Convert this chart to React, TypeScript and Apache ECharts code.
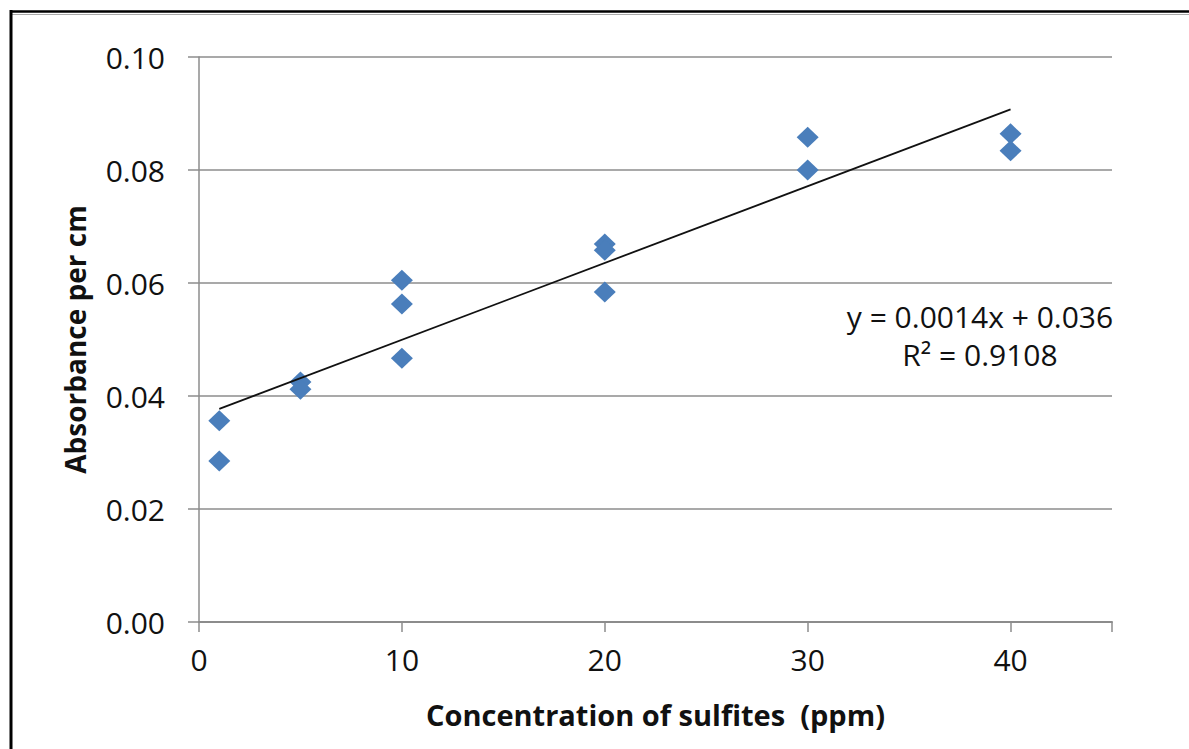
import React, { useEffect, useRef } from "react";
import * as echarts from "echarts";

const concentration = [1, 1, 5, 5, 10, 10, 10, 20, 20, 20, 30, 30, 40, 40];
const absorbance = [0.0356, 0.0285, 0.0425, 0.0412, 0.0605, 0.0563, 0.0467, 0.0669, 0.0658, 0.0584, 0.0858, 0.08, 0.0864, 0.0834];
const xTicks = [0, 10, 20, 30, 40];
const equationLines = ["y = 0.0014x + 0.036", "R² = 0.9108"];

function fit(xs: number[], ys: number[]) {
  const n = xs.length;
  const mx = xs.reduce((a, b) => a + b, 0) / n;
  const my = ys.reduce((a, b) => a + b, 0) / n;
  let sxy = 0, sxx = 0;
  for (let i = 0; i < n; i++) {
    sxy += (xs[i] - mx) * (ys[i] - my);
    sxx += (xs[i] - mx) * (xs[i] - mx);
  }
  const slope = sxy / sxx;
  return { slope, intercept: my - slope * mx };
}

export default function App() {
  const ref = useRef<HTMLDivElement>(null);
  useEffect(() => {
    if (!ref.current) return;
    const chart = echarts.init(ref.current, null, { renderer: "svg" });
    const { slope, intercept } = fit(concentration, absorbance);
    const xMin = Math.min(...concentration);
    const xMax = Math.max(...concentration);
    const trend = [
      [xMin, intercept + slope * xMin],
      [xMax, intercept + slope * xMax],
    ];
    const font = "'Open Sans', 'Noto Sans', sans-serif";
    chart.setOption({
      animation: false,
      backgroundColor: "#fff",
      grid: { left: 199, right: 77, top: 57, bottom: 127, containLabel: false },
      xAxis: {
        type: "value",
        min: 0,
        max: 45,
        interval: 10,
        name: "Concentration of sulfites  (ppm)",
        nameLocation: "middle",
        nameGap: 78,
        nameTextStyle: { fontFamily: font, fontSize: 29, fontWeight: "bold", color: "#111" },
        axisLine: { show: true, lineStyle: { color: "#8c8c8c", width: 2 } },
        axisTick: { show: true, length: 10, lineStyle: { color: "#8c8c8c", width: 1.5 } },
        axisLabel: {
          fontFamily: font,
          fontSize: 30,
          color: "#111",
          margin: 22,
          formatter: (v: number) => (xTicks.includes(v) ? String(v) : ""),
        },
        splitLine: { show: false },
      },
      yAxis: {
        type: "value",
        min: 0,
        max: 0.1,
        interval: 0.02,
        name: "Absorbance per cm",
        nameLocation: "middle",
        nameGap: 110,
        nameTextStyle: { fontFamily: font, fontSize: 28, fontWeight: "bold", color: "#111" },
        axisLine: { show: true, lineStyle: { color: "#8c8c8c", width: 1.5 } },
        axisTick: { show: true, inside: false, length: 11, lineStyle: { color: "#8c8c8c", width: 1.5 } },
        axisLabel: {
          fontFamily: font,
          fontSize: 30,
          color: "#111",
          margin: 34,
          formatter: (v: number) => v.toFixed(2),
        },
        splitLine: { show: true, lineStyle: { color: "#8c8c8c", width: 1.5 } },
      },
      series: [
        {
          type: "line",
          data: trend,
          symbol: "none",
          lineStyle: { color: "#111", width: 1.8 },
          z: 3,
        },
        {
          type: "scatter",
          data: concentration.map((x, i) => [x, absorbance[i]]),
          symbol: "diamond",
          symbolSize: [22, 21],
          itemStyle: { color: "#4A7EBB", opacity: 1 },
          z: 2,
        },
      ],
      graphic: [
        { type: "line", shape: { x1: 10, y1: 11.5, x2: 1189, y2: 11.5 }, style: { stroke: "#000", lineWidth: 2.5 } },
        { type: "line", shape: { x1: 12, y1: 14.5, x2: 1189, y2: 14.5 }, style: { stroke: "#aaa", lineWidth: 1 } },
        { type: "line", shape: { x1: 11, y1: 10, x2: 11, y2: 749 }, style: { stroke: "#000", lineWidth: 3 } },
        {
          type: "text",
          x: 980,
          y: 335,
          style: {
            text: equationLines.join("\n"),
            font: `30px ${font}`,
            fill: "#111",
            align: "center",
            verticalAlign: "middle",
            lineHeight: 38,
          },
        },
      ],
    });
    return () => chart.dispose();
  }, []);
  return <div ref={ref} style={{ position: "fixed", left: 0, top: 0, width: 1189, height: 749 }} />;
}
